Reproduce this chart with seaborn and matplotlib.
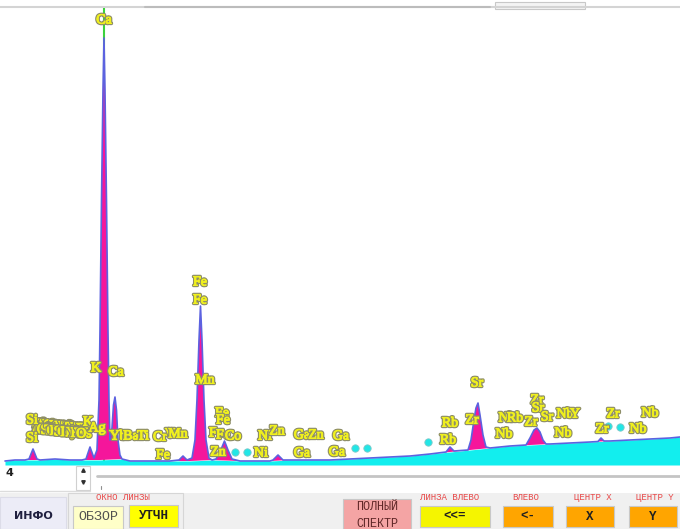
import numpy as np
import matplotlib
matplotlib.use("Agg")
import matplotlib.pyplot as plt
import matplotlib.patheffects as pe
from matplotlib.patches import Rectangle
import seaborn as sns

# measured spectrum (energy keV, counts)
spec_kev = [0.910, 1.191, 1.472, 1.584, 1.697, 1.809, 1.893, 2.315, 2.736, 3.073,
            3.185, 3.298, 3.410, 3.494, 3.551, 3.579, 3.621, 3.663, 3.691, 3.719,
            3.761, 3.803, 3.831, 3.860, 3.916, 3.958, 4.000, 4.042, 4.084, 4.140,
            4.197, 4.421, 4.983, 5.545, 5.798, 5.910, 6.022, 6.163, 6.247, 6.303,
            6.360, 6.402, 6.444, 6.500, 6.556, 6.640, 6.725, 6.837, 6.949, 7.076,
            7.174, 7.287, 7.511, 7.792, 8.354, 8.438, 8.579, 8.719, 8.916, 9.478,
            10.039, 10.601, 11.163, 11.725, 12.287, 12.848, 13.298, 13.410, 13.522, 13.916,
            14.000, 14.084, 14.140, 14.197, 14.253, 14.337, 14.421, 14.534, 15.096, 15.545,
            15.657, 15.770, 15.854, 15.938, 16.022, 16.107, 16.219, 16.781, 17.343, 17.567,
            17.652, 17.736, 17.904, 18.466, 19.028, 19.590, 19.871]
spec_cnt = [40, 50, 50, 60, 160, 60, 50, 60, 50, 50,
            60, 180, 70, 150, 650, 1350, 2650, 3750, 4270, 3750,
            2650, 1350, 650, 250, 370, 600, 680, 550, 250, 100,
            60, 40, 40, 40, 50, 90, 50, 70, 250, 650,
            1250, 1590, 1250, 650, 250, 70, 50, 60, 130, 240,
            150, 60, 40, 40, 40, 50, 100, 50, 50, 50,
            50, 60, 70, 80, 90, 110, 130, 180, 140, 150,
            250, 450, 570, 620, 500, 300, 180, 170, 190, 200,
            270, 350, 370, 330, 250, 210, 210, 220, 230, 235,
            270, 240, 240, 250, 260, 270, 280]

# continuum under the peaks
bg_kev = [0.910, 1.191, 1.472, 1.893, 2.315, 2.736, 3.073, 3.579, 4.197, 4.421,
          4.983, 5.545, 6.107, 6.725, 7.511, 7.792, 8.354, 8.916, 9.478, 10.039,
          10.601, 11.163, 11.725, 12.287, 12.848, 13.410, 13.972, 14.534, 15.096, 15.657,
          16.219, 16.781, 17.343, 17.904, 18.466, 19.028, 19.590, 19.871]
bg_cnt = [40, 50, 50, 50, 60, 50, 50, 50, 60, 40,
          40, 40, 40, 50, 40, 40, 40, 50, 50, 50,
          60, 70, 80, 90, 110, 130, 150, 170, 190, 200,
          210, 220, 230, 240, 250, 260, 270, 280]

# crowded low-energy labels (L and M lines)
blob_kev = [1.781, 1.865, 1.949, 2.034, 2.118, 2.202, 2.287, 2.371, 2.455,
            2.539, 2.624, 2.708, 2.792, 2.876, 2.961, 3.045, 3.129]
blob_a = ["P", "Cl", "Rh", "Ag", "In", "Sb", "I", "Ba", "Ce",
          "Nd", "Eu", "Tb", "Ho", "Tm", "Lu", "Ta", "Re"]
blob_a_cnt = [410, 407, 404, 401, 398, 395, 392, 389, 386,
              383, 380, 377, 374, 371, 368, 365, 362]
blob_b = ["S", "Ar", "Pd", "Cd", "Sn", "Te", "Cs", "La", "Pr",
          "Sm", "Gd", "Dy", "Er", "Yb", "Hf", "W", "Os"]
blob_b_cnt = [360, 357, 354, 351, 348, 345, 342, 339, 336,
              333, 330, 327, 324, 321, 318, 315, 312]

# element labels
lab_text = ["Ca", "Fe", "Fe", "K", "Ca", "Mn", "Si", "Si", "K", "Ag",
            "Yb", "Ba", "Ti", "Cr", "V", "Mn", "Fe",
            "Fe", "Fe", "Fe", "Fe", "Co", "Ni", "Zn", "Ga", "Zn", "Ga",
            "Zn", "Ni", "Ga", "Ga",
            "Rb", "Rb", "Zr", "Sr", "Nb", "Nb", "Rb", "Zr", "Sr", "Zr", "Sr",
            "Nb", "Y", "Nb", "Zr", "Zr", "Nb", "Nb"]
lab_kev = [3.691, 6.388, 6.388, 3.466, 4.028, 6.528, 1.669, 1.669, 3.242, 3.494,
           4.084, 4.449, 4.787, 5.264, 5.545, 5.770, 5.348,
           7.006, 7.034, 6.837, 7.034, 7.315, 8.213, 8.551, 9.253, 9.646, 10.348,
           6.893, 8.101, 9.253, 10.236,
           13.410, 13.354, 14.028, 14.169, 14.927, 15.011, 15.236, 15.854, 15.882, 15.685, 16.135,
           16.640, 16.921, 16.584, 17.989, 17.680, 19.028, 18.691]
lab_cnt = [4450, 1830, 1650, 970, 930, 850, 450, 270, 430, 370,
           290, 290, 290, 280, 310, 310, 100,
           520, 450, 320, 300, 290, 290, 340, 300, 300, 290,
           130, 120, 120, 130,
           420, 250, 450, 820, 310, 470, 470, 650, 570, 430, 480,
           510, 510, 320, 510, 360, 520, 360]

# cyan markers
dot_kev = [7.371, 7.708, 10.742, 11.079, 12.792, 17.848, 18.185]
dot_cnt = [130, 130, 170, 170, 230, 390, 380]

marker_kev = 3.691

fig = plt.figure(figsize=(6.8, 5.29), dpi=100)
sns.set_style("white")

# window chrome in pixel coordinates
ui = fig.add_axes([0, 0, 1, 1], zorder=0)
ui.set_xlim(0, 680)
ui.set_ylim(529, 0)
ui.axis("off")

ui.plot([0, 680], [7, 7], color="#d4d4d4", lw=1.5)
ui.plot([145, 490], [7, 7], color="#bcbcbc", lw=1.5)
ui.add_patch(Rectangle((495, 2), 90, 7, fc="#f4f4f4", ec="#c8c8c8", lw=0.8))

# spin box and slider
ui.text(5, 473, "4", fontsize=8, fontweight="bold", va="center", ha="left", color="#202020")
ui.add_patch(Rectangle((76, 466), 14, 24, fc="white", ec="#d0d0d0", lw=0.8))
ui.plot([83], [470], marker="^", ms=2.5, color="#303030")
ui.plot([83], [482], marker="v", ms=2.5, color="#303030")
ui.plot([0, 90], [491, 491], color="#dcdcdc", lw=1)
ui.plot([97, 680], [476, 476], color="#c4c4c4", lw=2)
ui.plot([101, 101], [486, 489], color="#909090", lw=0.8)

# button bar
ui.add_patch(Rectangle((0, 493), 680, 36, fc="#f0f0f0", ec="none"))
ui.add_patch(Rectangle((0, 497), 66, 32, fc="#ececf7", ec="#dcdce8", lw=0.8))
ui.add_patch(Rectangle((68, 493), 115, 36, fc="#f0f0f0", ec="#d6d6d6", lw=0.8))
ui.text(33, 516, "ИНФО", fontsize=8, fontweight="bold", ha="center", va="center",
        color="#202040", family="DejaVu Sans")


def button(x0, y0, x1, y1, fc, label, color="#202020", bold=True, size=9):
    ui.add_patch(Rectangle((x0, y0), x1 - x0, y1 - y0, fc=fc, ec="#c8c8c8", lw=0.8))
    ui.text((x0 + x1) / 2, (y0 + y1) / 2, label, fontsize=size, ha="center", va="center",
            color=color, family="Liberation Mono",
            fontweight="bold" if bold else "normal", linespacing=1.5)


def caption(x, label):
    ui.text(x, 497, label, fontsize=6.5, ha="center", va="center",
            color="#e84848", family="Liberation Mono")


caption(123, "ОКНО ЛИНЗЫ")
button(73, 506, 123, 529, "#ffffc8", "ОБЗОР", color="#505050", bold=False, size=9.5)
button(129, 505, 178, 527, "#ffff00", "УТЧН", size=9)
button(343, 499, 411, 532, "#f4a4a4", "ПОЛНЫЙ\nСПЕКТР", color="#602828", bold=False, size=8.5)
caption(450, "ЛИНЗА ВЛЕВО")
button(420, 506, 490, 527, "#f5f500", "<<=")
caption(526, "ВЛЕВО")
button(503, 506, 553, 527, "#ffa500", "<-")
caption(593, "ЦЕНТР X")
button(566, 506, 614, 527, "#ffa500", "X")
caption(655, "ЦЕНТР Y")
button(629, 506, 677, 527, "#ffa500", "Y")

# spectrum
ax = fig.add_axes([0, 64 / 529, 1, 457 / 529], zorder=1)
ax.patch.set_alpha(0)
ax.set_xlim(0.770, 19.871)
ax.set_ylim(0, 4570)

ax.axvline(marker_kev, color="#3cd23c", lw=1.5, zorder=1)
ax.fill_between(bg_kev, 0, bg_cnt, color="#12eeee", lw=0, zorder=2)
poly_x = np.r_[spec_kev, bg_kev[::-1]]
poly_y = np.r_[spec_cnt, bg_cnt[::-1]]
ax.fill(poly_x, poly_y, color="#f5169b", lw=0, zorder=3)
sns.lineplot(x=spec_kev, y=spec_cnt, sort=False, color="#5c62e0", lw=1.2, ax=ax, zorder=4)
sns.scatterplot(x=dot_kev, y=dot_cnt, color="#22e6e6", s=28, edgecolor="#7fc8c8",
                linewidth=0.6, ax=ax, zorder=5)

# yellow letters with a grey rim, slightly emboldened
outline = [pe.Stroke(linewidth=2.4, foreground="#8e8e68"),
           pe.Stroke(linewidth=0.7, foreground="#f0f01e"), pe.Normal()]
label_style = dict(fontsize=10, family="Liberation Serif", color="#f0f01e",
                   ha="center", va="center", path_effects=outline, zorder=6)
for t, e, c in zip(blob_a + blob_b, blob_kev + blob_kev, blob_a_cnt + blob_b_cnt):
    ax.text(e, c, t, **label_style)
for t, e, c in zip(lab_text, lab_kev, lab_cnt):
    ax.text(e, c, t, **label_style)

ax.axis("off")

fig.savefig("out.png", dpi=100)
